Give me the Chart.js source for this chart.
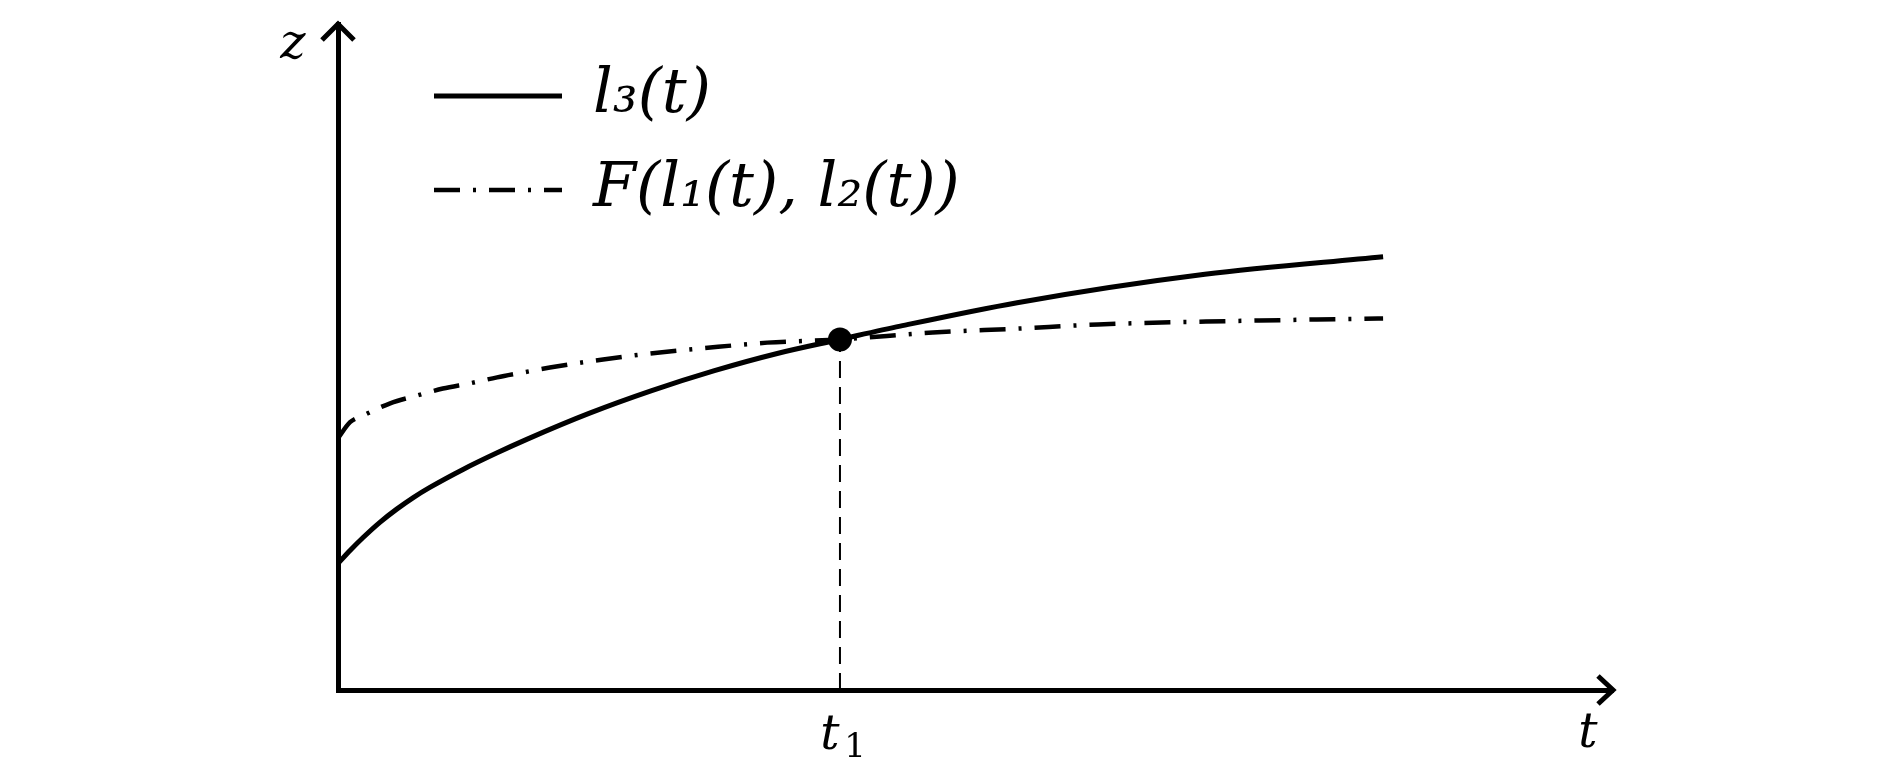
<!DOCTYPE html>
<html>
<head>
<meta charset="utf-8">
<script src="https://cdn.jsdelivr.net/npm/chart.js"></script>
<style>
  html, body { margin: 0; padding: 0; background: #fff; }
  #wrap { width: 1890px; height: 776px; }
</style>
</head>
<body>
<div id="wrap"><canvas id="plot"></canvas></div>
<script>
// t measured in units of t1 (t1 = 1), z in units of the value at the crossing
const l3T = [0, 0.024, 0.05, 0.084, 0.117, 0.15, 0.183, 0.25, 0.316, 0.376, 0.5, 0.625, 0.75, 0.875, 1, 1.12, 1.353, 1.727, 2.082];
const l3Z = [0.361, 0.398, 0.435, 0.479, 0.516, 0.549, 0.578, 0.63, 0.676, 0.715, 0.789, 0.854, 0.911, 0.96, 1, 1.038, 1.105, 1.186, 1.236];
const fT = [0, 0.024, 0.05, 0.104, 0.157, 0.209, 0.263, 0.317, 0.369, 0.422, 0.528, 0.641, 0.721, 0.855, 1, 1.185, 1.353, 1.514, 1.729, 1.95, 2.082];
const fZ = [0.718, 0.764, 0.783, 0.818, 0.84, 0.86, 0.875, 0.892, 0.906, 0.92, 0.943, 0.963, 0.974, 0.991, 1, 1.02, 1.031, 1.043, 1.051, 1.057, 1.06];
const t1 = 1;
const zCross = 1;
const tMax = 2.54;
const zMax = 1.9;

const mathFont = "'DejaVu Serif', serif";

const toPts = (ts, zs) => ts.map((t, i) => ({x: t, y: zs[i]}));

// arrow heads and the z, t, t1 labels
const axisDecor = {
  id: 'axisDecor',
  afterLayout(chart) {
    // legend sits inside the plot, away from the z axis
    const lg = chart.legend, a = chart.chartArea;
    const w = lg.right - lg.left, h = lg.bottom - lg.top;
    lg.left = a.left + 64;
    lg.top = a.top + 9;
    lg.right = lg.left + w;
    lg.bottom = lg.top + h;
  },
  afterDraw(chart) {
    const {ctx, chartArea: a, scales: {x, y}} = chart;
    const ox = x.getPixelForValue(0);
    const oy = y.getPixelForValue(0);
    ctx.save();
    ctx.strokeStyle = '#000';
    ctx.lineWidth = 5;
    ctx.lineJoin = 'miter';
    ctx.beginPath();
    ctx.moveTo(ox - 16, a.top + 16);
    ctx.lineTo(ox, a.top);
    ctx.lineTo(ox + 16, a.top + 16);
    ctx.stroke();
    ctx.beginPath();
    ctx.moveTo(a.right - 15, oy - 14);
    ctx.lineTo(a.right, oy);
    ctx.lineTo(a.right - 15, oy + 14);
    ctx.stroke();

    ctx.fillStyle = '#000';
    ctx.textAlign = 'center';
    ctx.textBaseline = 'middle';
    ctx.font = 'italic 48px ' + mathFont;
    ctx.fillText('z', ox - 45, a.top + 22);
    ctx.fillText('t', a.right - 25, oy + 45);
    const tx = x.getPixelForValue(t1);
    ctx.fillText('t', tx - 10, oy + 47);
    ctx.font = '34px ' + mathFont;
    ctx.fillText('1', tx + 15, oy + 58);
    ctx.restore();
  }
};

new Chart(document.getElementById('plot'), {
  type: 'line',
  data: {
    datasets: [{
      label: 'l₃(t)',
      data: toPts(l3T, l3Z),
      borderColor: '#000',
      borderWidth: 5,
      pointRadius: 0,
      cubicInterpolationMode: 'monotone'
    }, {
      label: 'F(l₁(t), l₂(t))',
      data: toPts(fT, fZ),
      borderColor: '#000',
      borderWidth: 4.5,
      borderDash: [26, 13, 3, 13],
      pointRadius: 0,
      cubicInterpolationMode: 'monotone'
    }, {
      label: 'drop',
      data: [{x: t1, y: 0}, {x: t1, y: zCross}],
      borderColor: '#000',
      borderWidth: 2,
      borderDash: [17, 9],
      pointRadius: 0
    }, {
      label: 'cross',
      data: [{x: t1, y: zCross}],
      showLine: false,
      pointRadius: 12,
      pointBackgroundColor: '#000',
      pointBorderWidth: 0
    }]
  },
  options: {
    responsive: true,
    maintainAspectRatio: false,
    animation: false,
    layout: {padding: {left: 330, right: 277, top: 24, bottom: 78}},
    scales: {
      x: {
        type: 'linear', min: 0, max: tMax,
        grid: {display: false},
        ticks: {display: false},
        border: {display: true, color: '#000', width: 5}
      },
      y: {
        min: 0, max: zMax,
        grid: {display: false},
        ticks: {display: false},
        border: {display: true, color: '#000', width: 5}
      }
    },
    plugins: {
      tooltip: {enabled: false},
      legend: {
        position: 'chartArea',
        align: 'start',
        labels: {
          usePointStyle: true,
          pointStyle: 'line',
          pointStyleWidth: 128,
          color: '#000',
          padding: 32,
          font: {family: mathFont, style: 'italic', size: 62},
          filter: item => item.datasetIndex < 2,
          generateLabels: chart => Chart.defaults.plugins.legend.labels.generateLabels(chart).map(item => {
            const ds = chart.data.datasets[item.datasetIndex];
            item.lineWidth = ds.borderWidth;
            item.lineDash = ds.borderDash || [];
            return item;
          })
        }
      }
    }
  },
  plugins: [axisDecor]
});
</script>
</body>
</html>
